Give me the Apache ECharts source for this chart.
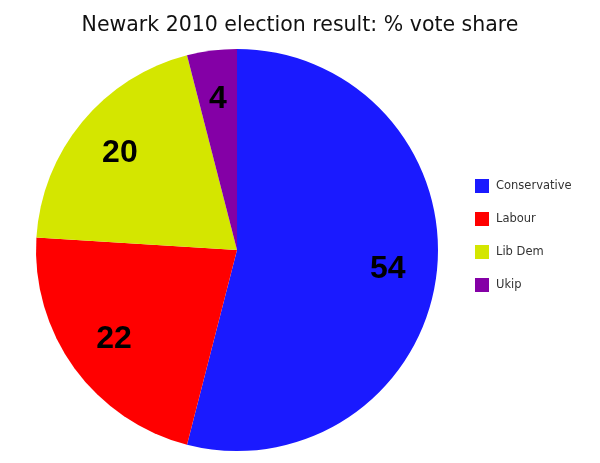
<!DOCTYPE html>
<html><head><meta charset="utf-8">
<script src="https://cdn.jsdelivr.net/npm/echarts@6/dist/echarts.min.js"></script>
<style>html,body{margin:0;padding:0;background:#fff}#c{width:600px;height:463px}</style>
</head><body><div id="c"></div>
<script>
const parties = ['Conservative', 'Labour', 'Lib Dem', 'Ukip'];
const shares = [54, 22, 20, 4];
const colors = ['#1a1aff', '#ff0000', '#d4e600', '#8400a6'];

const chart = echarts.init(document.getElementById('c'));
const data = parties.map((p, i) => ({ name: p, value: shares[i], itemStyle: { color: colors[i] } }));
chart.setOption({
  animation: false,
  title: {
    text: 'Newark 2010 election result: % vote share',
    left: 'center', top: 10,
    textStyle: { fontFamily: 'DejaVu Sans', fontWeight: 'normal', fontSize: 20.5, color: '#111' }
  },
  legend: {
    orient: 'vertical', left: 470, top: 174,
    itemWidth: 14, itemHeight: 14, itemGap: 19,
    icon: 'rect',
    textStyle: { fontFamily: 'DejaVu Sans', fontSize: 11.5, color: '#333', padding: [0, 0, 0, 2] },
    data: parties
  },
  series: [{
    type: 'pie',
    center: [237, 250],
    radius: 201,
    startAngle: 90,
    clockwise: true,
    label: { show: false },
    labelLine: { show: false },
    emphasis: { disabled: true },
    data: data
  }, {
    type: 'pie',
    center: [237, 250],
    radius: [97, 201],
    startAngle: 90,
    clockwise: true,
    silent: true,
    legendHoverLink: false,
    itemStyle: { color: 'transparent' },
    label: {
      show: true, position: 'inside',
      formatter: '{c}',
      fontFamily: 'Arial, "Liberation Sans", sans-serif', fontWeight: 'bold', fontSize: 32, color: '#000',
      padding: [9, 0, 0, 0]
    },
    labelLine: { show: false },
    emphasis: { disabled: true },
    data: parties.map((p, i) => ({ name: p + ' ', value: shares[i] }))
  }]
});
</script></body></html>
